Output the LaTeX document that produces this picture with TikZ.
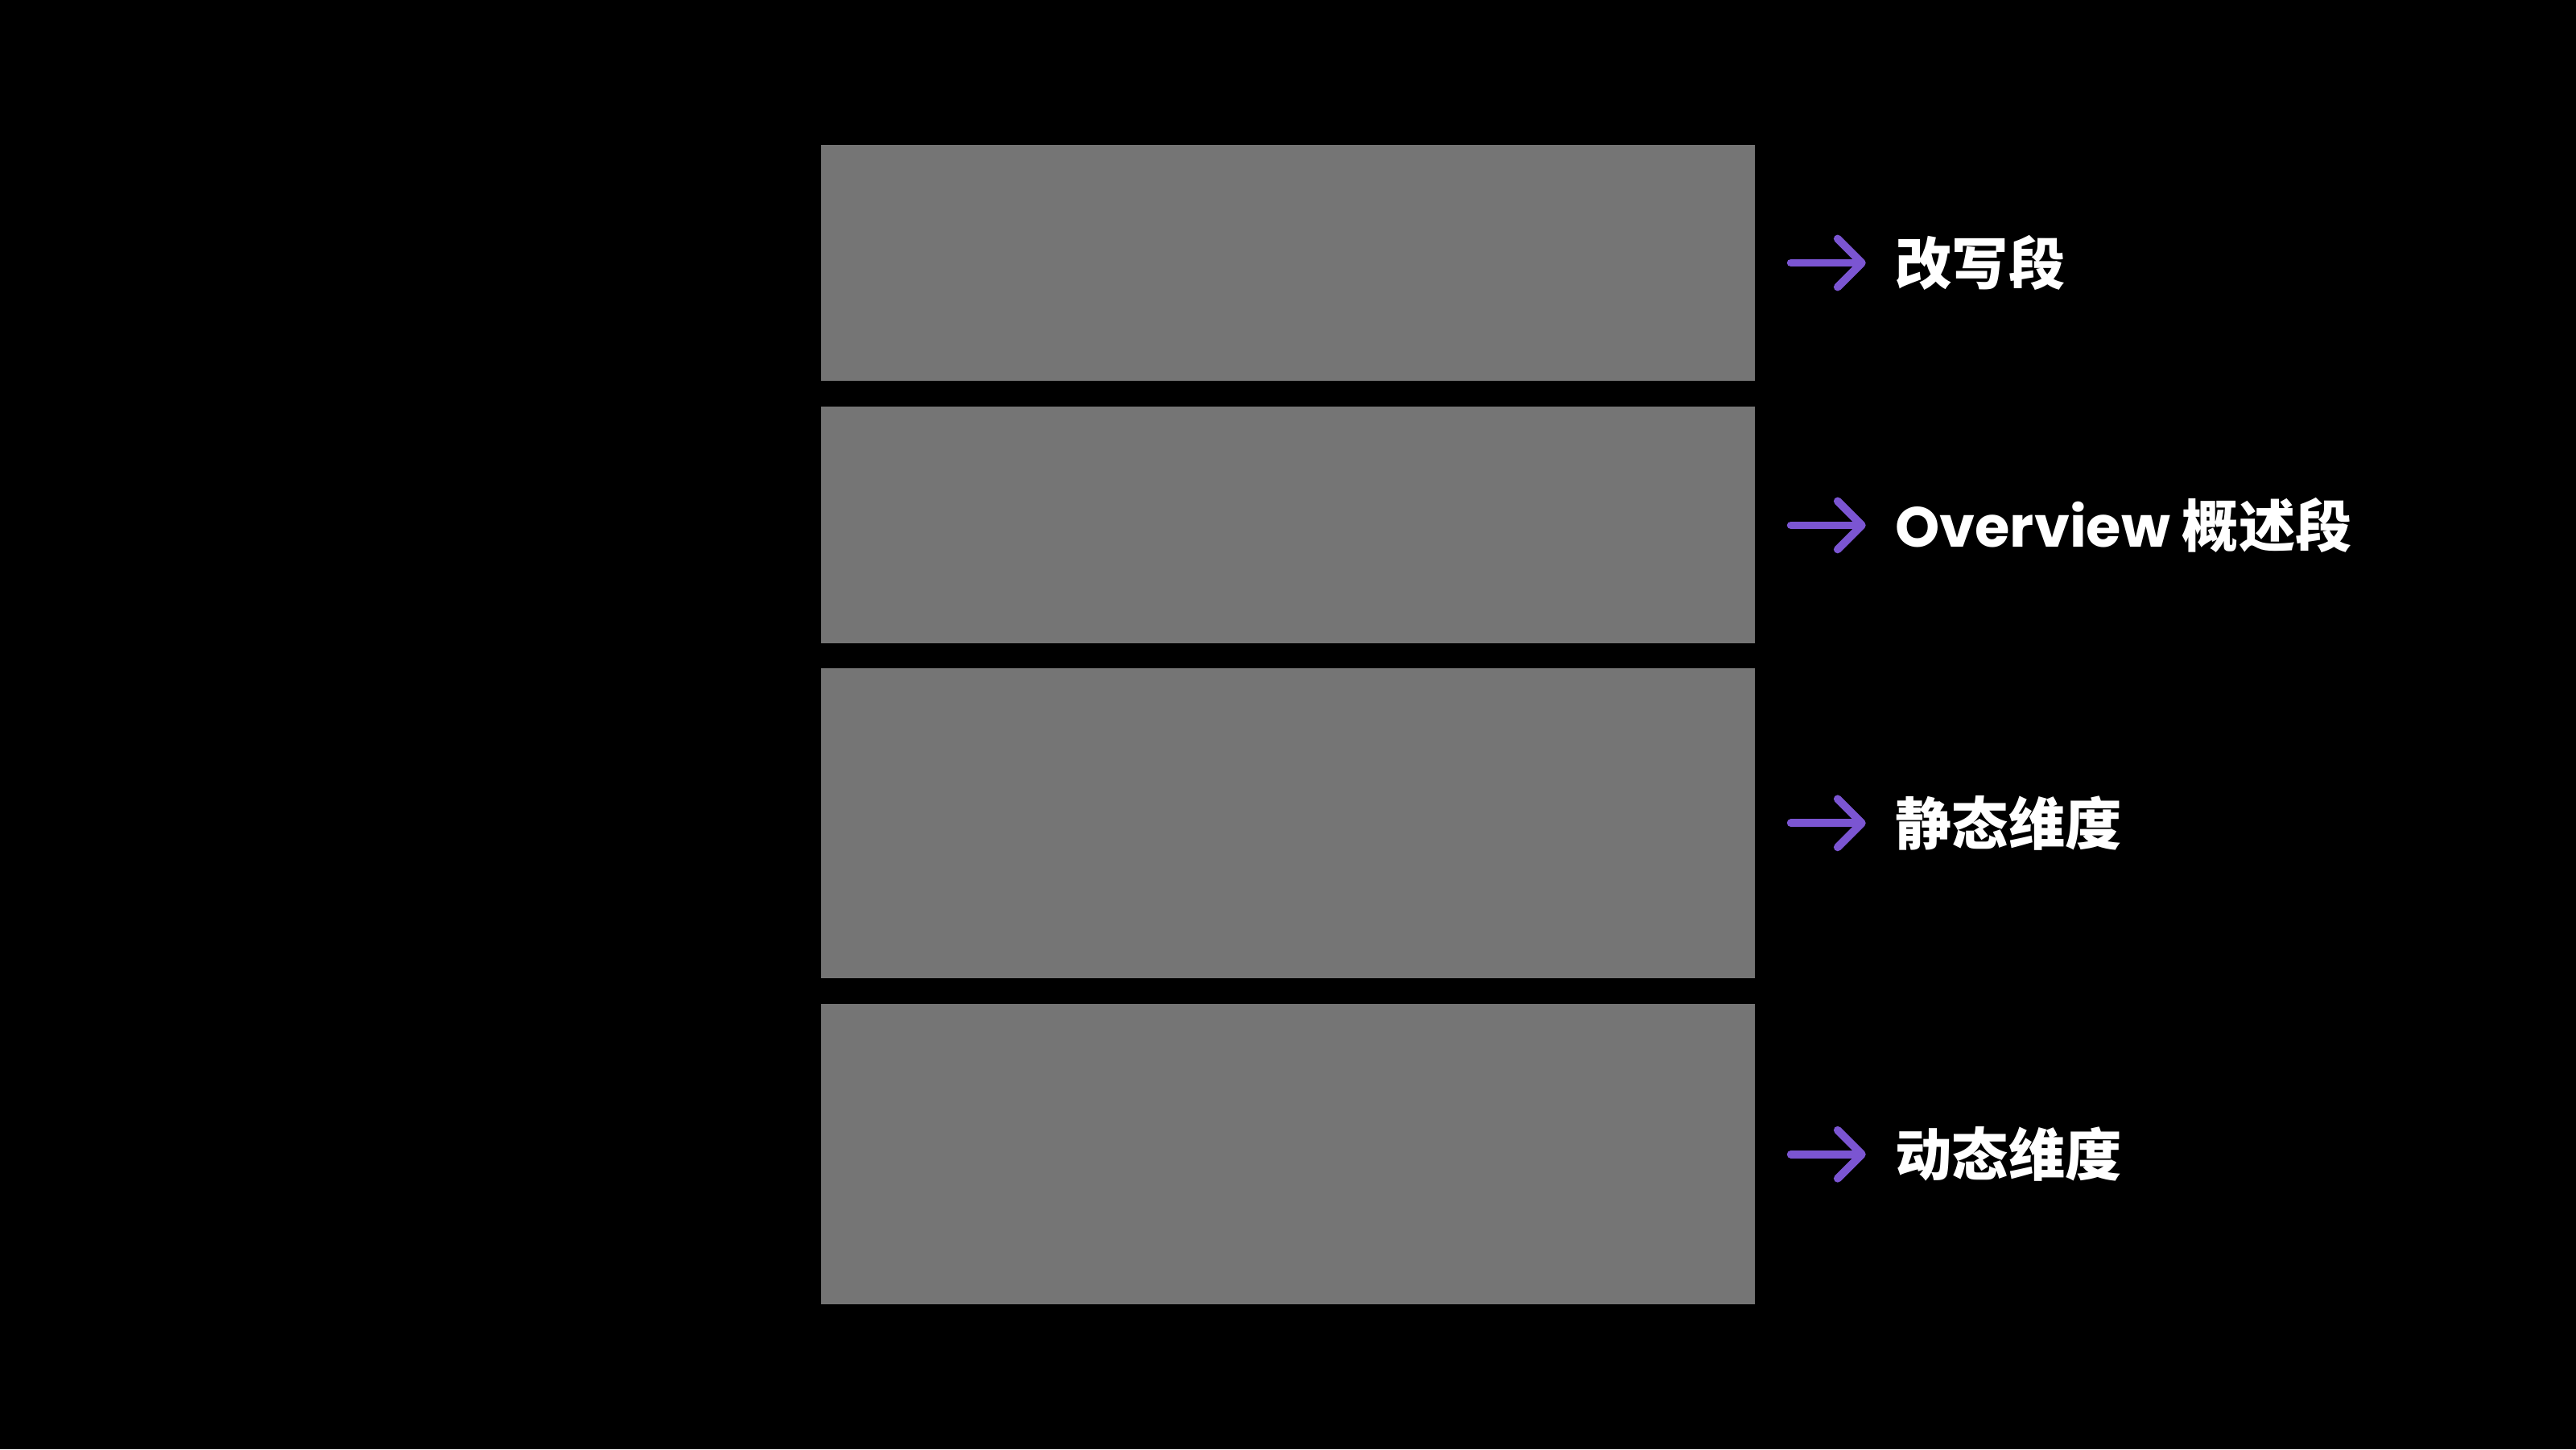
\documentclass[tikz,border=0pt]{standalone}
\usepackage{fontspec}
\newfontfamily\latinfont{Poppins}
\newfontfamily\cjk{Noto Sans CJK SC}
\usetikzlibrary{positioning,arrows.meta}
\definecolor{boxgray}{HTML}{757575}
\definecolor{arrowpurple}{HTML}{7B55D2}
\begin{document}
\begin{tikzpicture}
        \tikzstyle{part}=[fill=boxgray, draw=none, minimum width=11.6cm, inner sep=0pt]
        \tikzstyle{tag}=[text=white, inner sep=0pt, font=\fontsize{20}{24}\selectfont\bfseries]
        \tikzstyle{pointer}=[draw=arrowpurple, line width=2.8pt, line cap=round,
            -{Straight Barb[length=0.3cm, width=0.6cm, line width=2.8pt, round]}]

        \fill[black] (0,0) rectangle (32,-18);
        \useasboundingbox (0,0) rectangle (32,-18);

        \node   (b1)    [part, minimum height=2.93cm] at (16,-3.265) {};
        \node   (b2)    [part, minimum height=2.94cm, below=0.31cm of b1] {};
        \node   (b3)    [part, minimum height=3.85cm, below=0.29cm of b2] {};
        \node   (b4)    [part, minimum height=3.73cm, below=0.31cm of b3] {};

        \node   (t1)    [tag, right=1.73cm of b1.east, anchor=west] {\cjk 改写段};
        \node   (t2)    [tag, right=1.73cm of b2.east, anchor=west] {\latinfont Overview \cjk 概述段};
        \node   (t3)    [tag, right=1.73cm of b3.east, anchor=west] {\cjk 静态维度};
        \node   (t4)    [tag, right=1.73cm of b4.east, anchor=west] {\cjk 动态维度};

        \draw[pointer] ([xshift=0.44cm]b1.east) -- ([xshift=-0.36cm]b1.east -| t1.west);
        \draw[pointer] ([xshift=0.44cm]b2.east) -- ([xshift=-0.36cm]b2.east -| t2.west);
        \draw[pointer] ([xshift=0.44cm]b3.east) -- ([xshift=-0.36cm]b3.east -| t3.west);
        \draw[pointer] ([xshift=0.44cm]b4.east) -- ([xshift=-0.36cm]b4.east -| t4.west);

    \end{tikzpicture}
\end{document}
